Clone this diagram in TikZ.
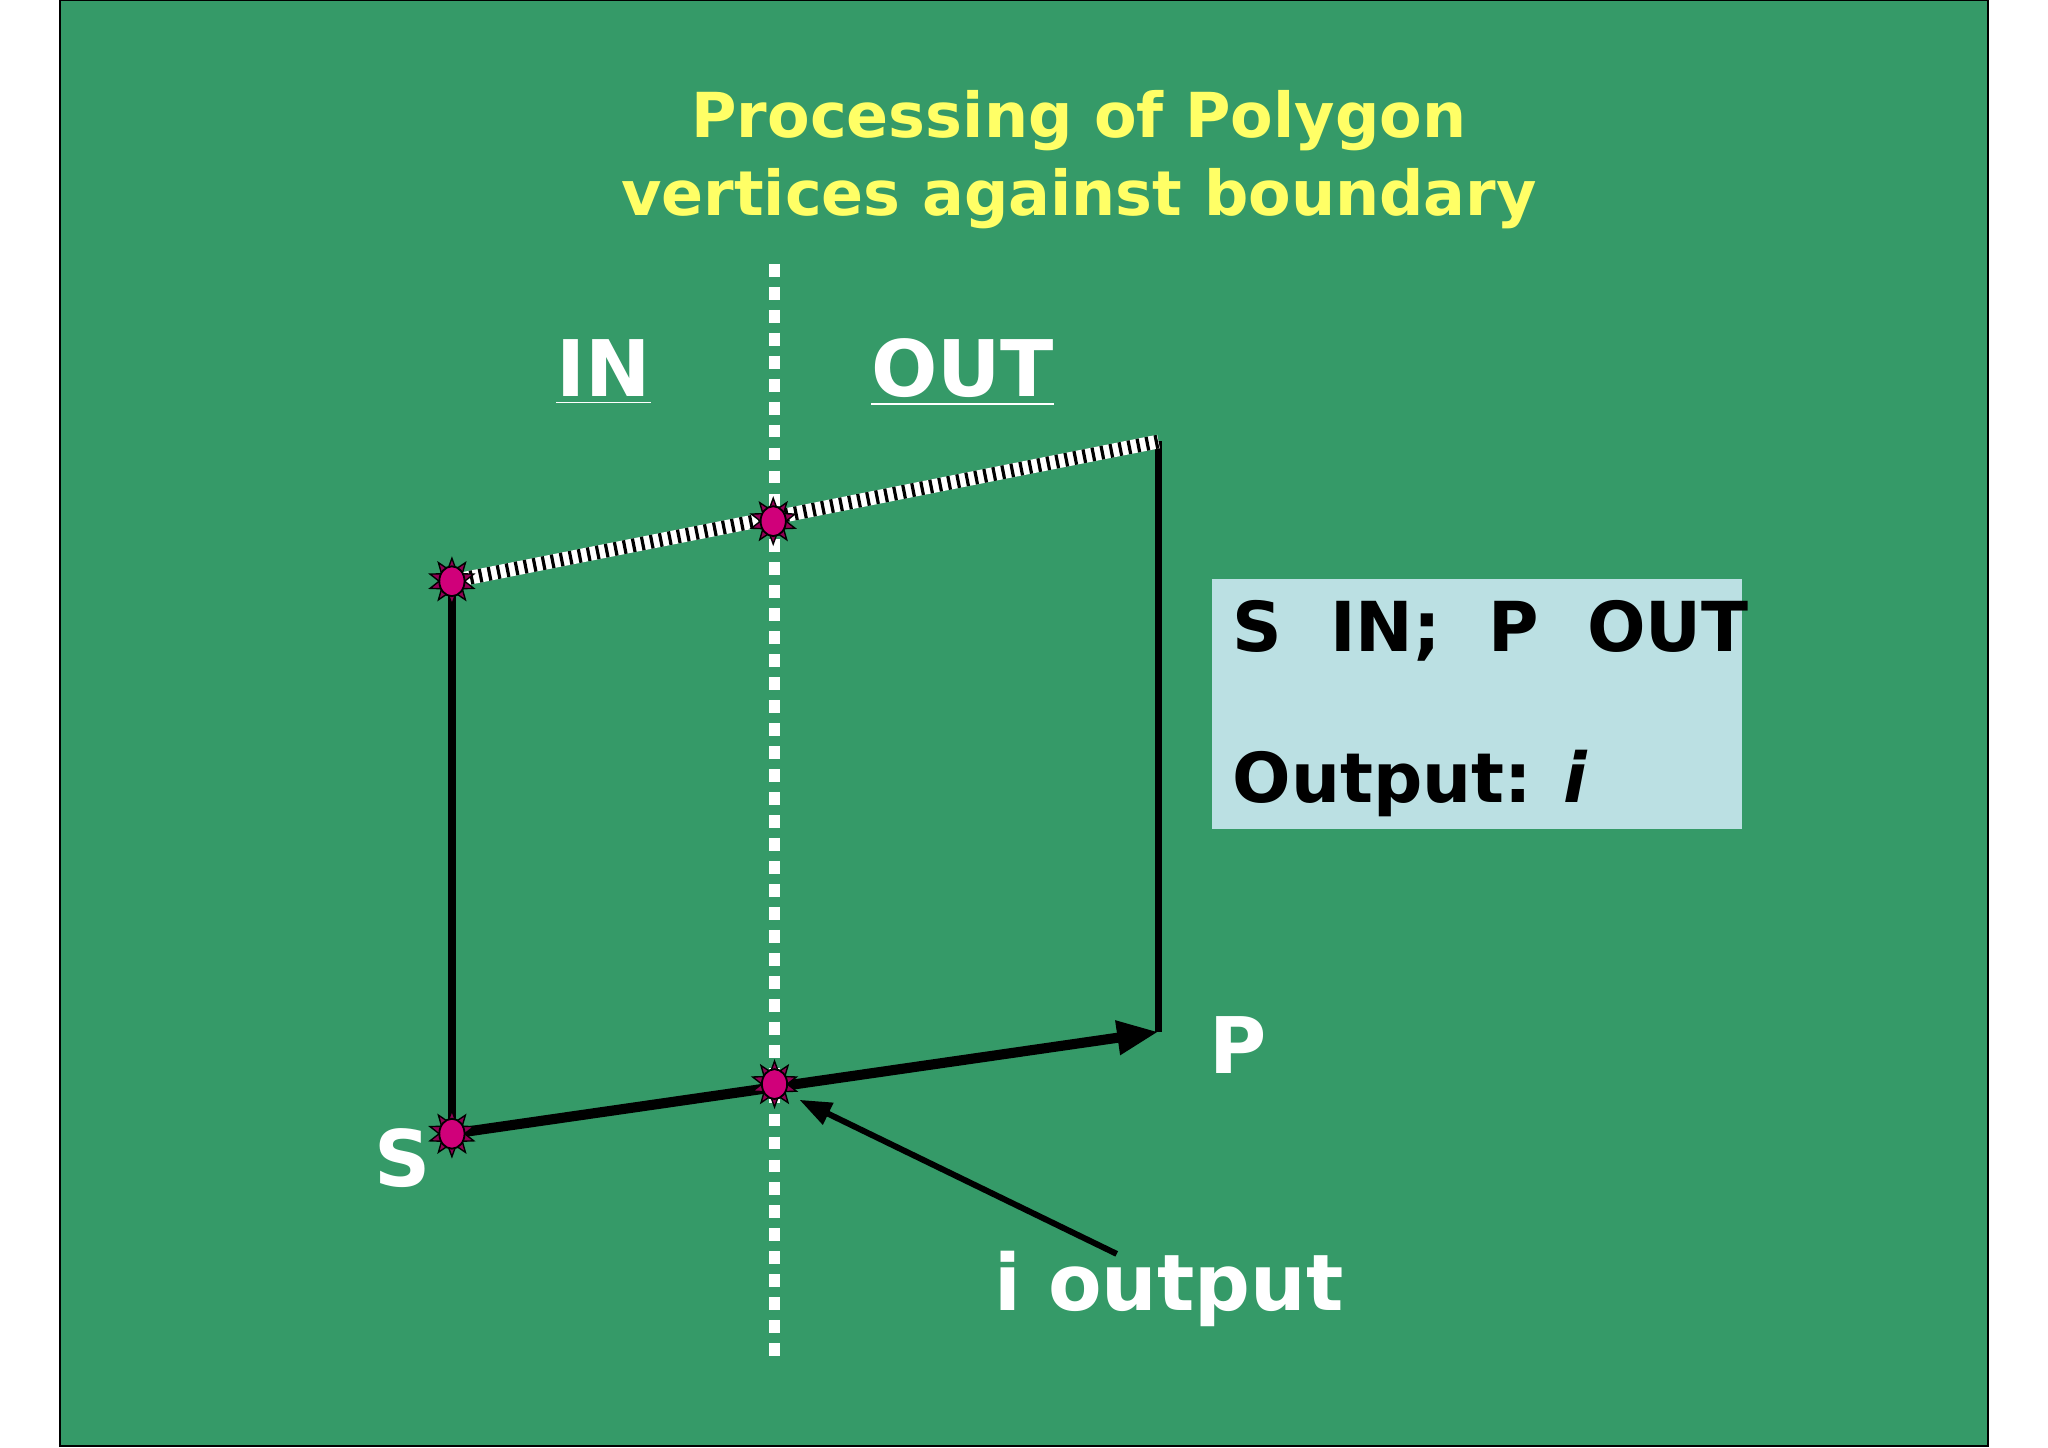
\documentclass[tikz,border=0pt]{standalone}
\usepackage{fontspec}
\setmainfont{DejaVu Sans}
\usetikzlibrary{shapes.geometric,arrows.meta}
\definecolor{bg}{HTML}{359A68}
\definecolor{ttl}{HTML}{FFFF66}
\definecolor{boxc}{HTML}{BBE0E3}
\definecolor{mag}{HTML}{D0007A}
\tikzset{
 edge/.style={black,line width=1.6pt},
 lbl/.style={text=white,font=\bfseries\fontsize{17}{20}\selectfont,inner sep=0},
 vmark/.style={star,star points=10,star point ratio=1.8,minimum size=10pt,inner sep=0,fill=mag!70!black,draw=black,line width=0.3pt},
 vdot/.style={ellipse,minimum width=5.5pt,minimum height=6.5pt,inner sep=0,fill=mag,draw=black,line width=0.4pt}
}
\begin{document}
\begin{tikzpicture}[x=0.01cm,y=-0.01cm]
\useasboundingbox (0,0) rectangle (1568,1108.6);
\draw[fill=bg,draw=black,line width=0.5pt] (46,0) rectangle (1522,1107);
\node[text=ttl,font=\bfseries\fontsize{13.5}{17}\selectfont,align=center] (title) at (826,122) {Processing of Polygon\\vertices against boundary};
\coordinate (b1) at (593,202);
\coordinate (b2) at (593,1040);
\draw[white,line width=2.4pt,dash pattern=on 2.8pt off 2.2pt] (b1) -- (b2);
\node[lbl] (in) at (462,285) {\underline{IN}};
\node[lbl] (out) at (737,285) {\underline{OUT}};
\coordinate (S) at (346,868);
\coordinate (A) at (346,445);
\coordinate (I1) at (592,399);
\coordinate (B) at (887,338);
\coordinate (P) at (887,790);
\coordinate (I2) at (593,830);
\draw[edge] (S) -- (A);
\draw[edge] (B) -- (P);
\draw[white,line width=3pt] (A) -- (B);
\draw[black,line width=3pt,dash pattern=on 0.7pt off 1.3pt] (A) -- (B);
\draw[black,line width=2.2pt,-{Triangle[length=9pt,width=7pt]}] (S) -- (P);
\foreach \p/\n in {A/ma,I1/mb,I2/mc,S/md}{
 \node[vmark] (\n s) at (\p) {};
 \node[vdot] (\n) at (\p) {};
}
\node[fill=boxc,minimum width=406*0.2845pt,minimum height=192*0.2845pt,inner sep=0] (box) at (1131,539) {};
\node[anchor=west,font=\bfseries\fontsize{15}{18}\selectfont,inner sep=0] (t1) at (943,483) {S\ \ IN;\ \ P\ \ OUT};
\node[anchor=west,font=\bfseries\fontsize{15}{18}\selectfont,inner sep=0] (t2) at (943,600) {Output: \textit{i}};
\node[lbl] (pl) at (948,800) {P};
\node[lbl] (sl) at (308,887) {S};
\node[lbl] (io) at (895,987) {i output};
\coordinate (iot) at (855,960);
\draw[black,line width=1.3pt,-{Triangle[length=7pt,width=5pt]}] (iot) -- (612,842);
\end{tikzpicture}
\end{document}
